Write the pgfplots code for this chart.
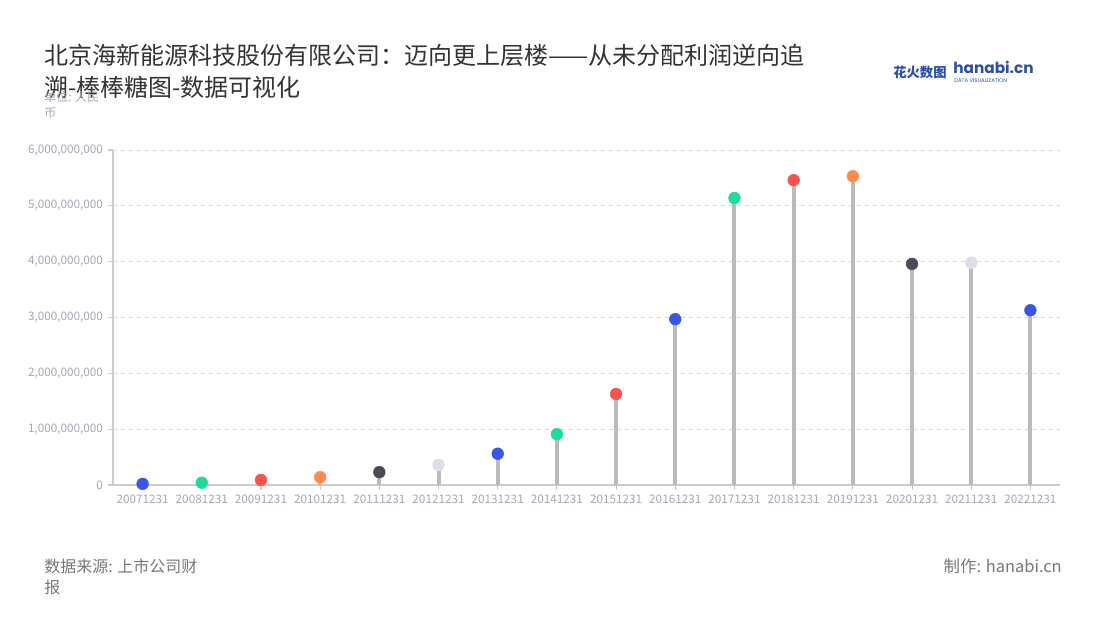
\documentclass[border=0pt]{standalone}
\usepackage{pgfplots}
\pgfplotsset{compat=1.18}
\usepackage{fontspec}
\setmainfont{Noto Sans CJK SC}
\newfontfamily\logofont{Poppins}
\definecolor{cBlue}{HTML}{3A56E8}
\definecolor{cGreen}{HTML}{1DDB9E}
\definecolor{cRed}{HTML}{F5554E}
\definecolor{cOrange}{HTML}{FF8A4D}
\definecolor{cDark}{HTML}{4B4B55}
\definecolor{cLight}{HTML}{DCDFE8}
\definecolor{stem}{HTML}{BBBBBB}
\definecolor{axisgray}{HTML}{CCCCCC}
\definecolor{ticktext}{HTML}{A4A8B4}
\definecolor{titletext}{HTML}{333333}
\definecolor{foot}{HTML}{777777}
\definecolor{logoblue}{HTML}{2B4FA8}
\begin{document}
\begin{tikzpicture}[x=0.75pt,y=0.75pt]
\path[use as bounding box] (0,0) rectangle (1100,620);
\coordinate (AX) at (113,135);
% title
\node[anchor=base west,inner sep=0,text=titletext,font=\fontsize{18}{22}\selectfont] at (44,555) {北京海新能源科技股份有限公司：迈向更上层楼——从未分配利润逆向追};
\node[anchor=base west,inner sep=0,text=titletext,font=\fontsize{18}{22}\selectfont] at (44,523) {溯-棒棒糖图-数据可视化};
\node[anchor=base west,inner sep=0,text=ticktext,font=\fontsize{9}{11}\selectfont] at (44,518) {单位: 人民};
\node[anchor=base west,inner sep=0,text=ticktext,font=\fontsize{9}{11}\selectfont] at (44,502) {币};
% logo
\node[anchor=base west,inner sep=0,text=logoblue,font=\bfseries\fontsize{10}{12}\selectfont] at (893,542) {花火数图};
\node[anchor=base west,inner sep=0,text=logoblue,font=\logofont\bfseries\fontsize{11.5}{13}\selectfont] at (953,546) {hanabi.cn};
\node[anchor=base west,inner sep=0,text=logoblue,font=\logofont\fontsize{4}{5}\selectfont] at (954,537) {DATA VISUALIZATION};
% footer
\node[anchor=base west,inner sep=0,text=foot,font=\fontsize{12}{14}\selectfont] at (44,47) {数据来源: 上市公司财};
\node[anchor=base west,inner sep=0,text=foot,font=\fontsize{12}{14}\selectfont] at (44,26) {报};
\node[anchor=base east,inner sep=0,text=foot,font=\fontsize{12.3}{14}\selectfont] at (1062,47) {制作: hanabi.cn};
\begin{axis}[
  at={(AX)}, anchor=south west,
  scale only axis, width=710.25pt, height=251.25pt,
  xmin=-0.5, xmax=15.5, ymin=0, ymax=6000000000,
  xtick={0,...,15},
  xticklabels={20071231,20081231,20091231,20101231,20111231,20121231,20131231,20141231,20151231,20161231,20171231,20181231,20191231,20201231,20211231,20221231},
  ytick={0,1000000000,2000000000,3000000000,4000000000,5000000000,6000000000},
  scaled y ticks=false,
  yticklabel style={/pgf/number format/.cd,fixed,1000 sep={,},assume math mode=true},
  ticklabel style={text=ticktext,font=\fontsize{8.8}{10}\selectfont},
  axis x line*=bottom, axis y line*=left,
  axis line style={axisgray,line width=1.2pt,-},
  tick style={axisgray,line width=0.8pt},
  tick align=outside, major tick length=4pt,
  ymajorgrids, grid style={dashed,axisgray!80,line width=0.6pt},
  xtick pos=bottom, ytick pos=left,
  clip=false,
]
\addplot[ycomb, stem, line width=3pt, mark=none] table {
x y
0 20000000
1 40000000
2 90000000
3 140000000
4 230000000
5 360000000
6 560000000
7 910000000
8 1630000000
9 2970000000
10 5140000000
11 5460000000
12 5530000000
13 3960000000
14 3980000000
15 3130000000
};
\addplot[scatter, only marks, mark=*, mark size=4.4pt,
  point meta=explicit symbolic,
  scatter/classes={
    b={mark=*,draw=cBlue,fill=cBlue},
    g={mark=*,draw=cGreen,fill=cGreen},
    r={mark=*,draw=cRed,fill=cRed},
    o={mark=*,draw=cOrange,fill=cOrange},
    d={mark=*,draw=cDark,fill=cDark},
    l={mark=*,draw=cLight,fill=cLight}}
] table[meta=c] {
x y c
0 20000000 b
1 40000000 g
2 90000000 r
3 140000000 o
4 230000000 d
5 360000000 l
6 560000000 b
7 910000000 g
8 1630000000 r
9 2970000000 b
10 5140000000 g
11 5460000000 r
12 5530000000 o
13 3960000000 d
14 3980000000 l
15 3130000000 b
};
\end{axis}
\end{tikzpicture}
\end{document}
